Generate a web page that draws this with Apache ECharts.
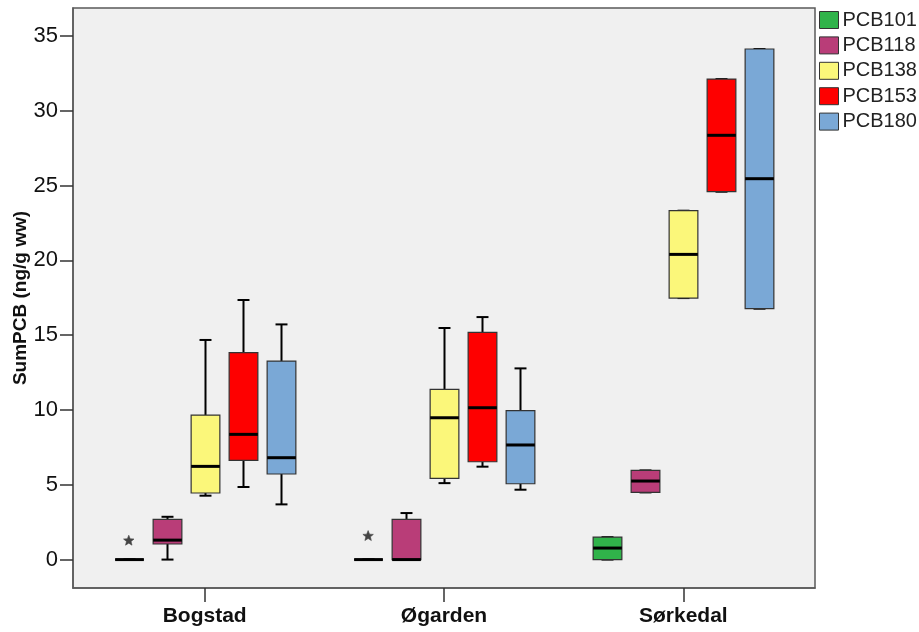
<!DOCTYPE html>
<html>
<head>
<meta charset="utf-8">
<script src="https://cdn.jsdelivr.net/npm/echarts@6/dist/echarts.min.js"></script>
<style>
  html, body { margin: 0; padding: 0; background: #ffffff; }
  #chart { width: 919px; height: 632px; }
</style>
</head>
<body>
<div id="chart"></div>
<script>
// Sampling sites along the x axis
const categories = ['Bogstad', 'Øgarden', 'Sørkedal'];
// PCB congeners, one box per site for each
const compounds = ['PCB101', 'PCB118', 'PCB138', 'PCB153', 'PCB180'];
const colors = ['#30b34a', '#b93d78', '#fbf77a', '#fe0000', '#7aa8d6'];
const yTicks = [0, 5, 10, 15, 20, 25, 30, 35];

// Five-number summaries per site: [min, Q1, median, Q3, max] (ng/g ww)
const pcb101 = [[0, 0, 0, 0, 0], [0, 0, 0, 0, 0], [0, 0, 0.77, 1.5, 1.5]];
const pcb118 = [[0, 1.04, 1.3, 2.69, 2.86], [0, 0, 0, 2.69, 3.11], [4.49, 4.49, 5.25, 5.96, 5.96]];
const pcb138 = [[4.27, 4.45, 6.23, 9.66, 14.68], [5.11, 5.43, 9.48, 11.38, 15.48], [17.48, 17.48, 20.4, 23.32, 23.32]];
const pcb153 = [[4.85, 6.63, 8.37, 13.83, 17.35], [6.21, 6.54, 10.15, 15.19, 16.21], [24.59, 24.59, 28.36, 32.12, 32.12]];
const pcb180 = [[3.69, 5.72, 6.81, 13.27, 15.72], [4.67, 5.07, 7.66, 9.95, 12.78], [16.77, 16.77, 25.46, 34.13, 34.13]];

// Extreme values: [site index, compound index, value]
const extremes = [[0, 0, 1.26], [1, 0, 1.57]];

const summaries = [pcb101, pcb118, pcb138, pcb153, pcb180];

const FONT = 'Liberation Sans, Arial, sans-serif';
const SLOT = 0.1585;   // spacing between neighbouring boxes, in site units
const BOX_W = 0.12;    // box width, in site units
const CAP_W = 0.05;    // whisker cap width, in site units

function boxRenderer(k) {
  return function (params, api) {
    const site = api.value(0);
    const xc = site + (k - 2) * SLOT;
    const lo = api.coord([xc, api.value(1)]);
    const q1 = api.coord([xc, api.value(2)]);
    const md = api.coord([xc, api.value(3)]);
    const q3 = api.coord([xc, api.value(4)]);
    const hi = api.coord([xc, api.value(5)]);
    const halfW = api.size([BOX_W, 0])[0] / 2;
    const halfCap = api.size([CAP_W, 0])[0] / 2;
    const x = Math.round(lo[0]) + 0.5;
    const whisker = { stroke: '#000', lineWidth: 2 };
    return {
      type: 'group',
      children: [
        { type: 'line', shape: { x1: x, y1: hi[1], x2: x, y2: q3[1] }, style: whisker },
        { type: 'line', shape: { x1: x, y1: q1[1], x2: x, y2: lo[1] }, style: whisker },
        { type: 'line', shape: { x1: x - halfCap, y1: hi[1], x2: x + halfCap, y2: hi[1] }, style: whisker },
        { type: 'line', shape: { x1: x - halfCap, y1: lo[1], x2: x + halfCap, y2: lo[1] }, style: whisker },
        {
          type: 'rect',
          shape: { x: x - halfW, y: q3[1], width: halfW * 2, height: q1[1] - q3[1] },
          style: { fill: colors[k], stroke: '#333', lineWidth: 1.2 }
        },
        {
          type: 'line',
          shape: { x1: x - halfW, y1: md[1], x2: x + halfW, y2: md[1] },
          style: { stroke: '#000', lineWidth: 3 }
        }
      ]
    };
  };
}

// Five-pointed star marker for extreme values
function starPoints(cx, cy, R, r) {
  const pts = [];
  for (let i = 0; i < 10; i++) {
    const rad = i % 2 === 0 ? R : r;
    const a = -Math.PI / 2 + i * Math.PI / 5;
    pts.push([cx + rad * Math.cos(a), cy + rad * Math.sin(a)]);
  }
  return pts;
}

const series = compounds.map((name, k) => ({
  name: name,
  type: 'custom',
  renderItem: boxRenderer(k),
  itemStyle: { color: colors[k], borderColor: '#333', borderWidth: 1 },
  encode: { x: 0, y: [1, 2, 3, 4, 5] },
  data: summaries[k].map((s, i) => [i].concat(s)),
  z: 3
}));

series.push({
  name: 'extremes',
  type: 'custom',
  renderItem: function (params, api) {
    const k = api.value(1);
    const p = api.coord([api.value(0) + (k - 2) * SLOT, api.value(2)]);
    return {
      type: 'polygon',
      shape: { points: starPoints(p[0], p[1], 5.5, 2.4) },
      style: { fill: '#444', stroke: '#444', lineWidth: 0.6 }
    };
  },
  encode: { x: 0, y: 2 },
  data: extremes,
  z: 4
});

const chart = echarts.init(document.getElementById('chart'), null, { renderer: 'canvas' });
chart.setOption({
  animation: false,
  backgroundColor: '#ffffff',
  textStyle: { fontFamily: FONT },
  grid: {
    left: 73, right: 104, top: 8, bottom: 44,
    containLabel: false,
    outerBoundsMode: 'none',
    show: true, backgroundColor: '#f0f0f0', borderColor: '#5a5a5a', borderWidth: 1.5
  },
  legend: {
    data: compounds,
    orient: 'vertical',
    left: 814,
    top: 5,
    itemWidth: 19,
    itemHeight: 17,
    itemGap: 5.4,
    icon: 'rect',
    itemStyle: { borderColor: '#333', borderWidth: 1 },
    textStyle: { fontSize: 20, color: '#222', fontFamily: FONT, lineHeight: 20, padding: [0, 0, 0, -1] }
  },
  xAxis: {
    type: 'value',
    min: -0.55,
    max: 2.55,
    splitLine: { show: false },
    axisLine: { show: true, onZero: false, lineStyle: { color: '#5a5a5a', width: 1.5 } },
    axisTick: { show: true, length: 14, customValues: [0, 1, 2], lineStyle: { color: '#333', width: 1.5 } },
    axisLabel: {
      customValues: [0, 1, 2],
      formatter: v => categories[Math.round(v)],
      margin: 18, fontSize: 21, fontWeight: 'bold', color: '#111', fontFamily: FONT
    }
  },
  yAxis: {
    type: 'value',
    min: -1.9,
    max: 36.87,
    name: 'SumPCB (ng/g ww)',
    nameLocation: 'middle',
    nameGap: 43,
    nameMoveOverlap: false,
    nameTextStyle: { fontSize: 19, fontWeight: 'bold', color: '#111', fontFamily: FONT },
    splitLine: { show: false },
    axisLine: { show: true, onZero: false, lineStyle: { color: '#5a5a5a', width: 1.5 } },
    axisTick: { show: true, length: 13, customValues: yTicks, lineStyle: { color: '#333', width: 1.5 } },
    axisLabel: {
      customValues: yTicks,
      margin: 15, fontSize: 22, color: '#111', fontFamily: FONT
    }
  },
  series: series
});
</script>
</body>
</html>
